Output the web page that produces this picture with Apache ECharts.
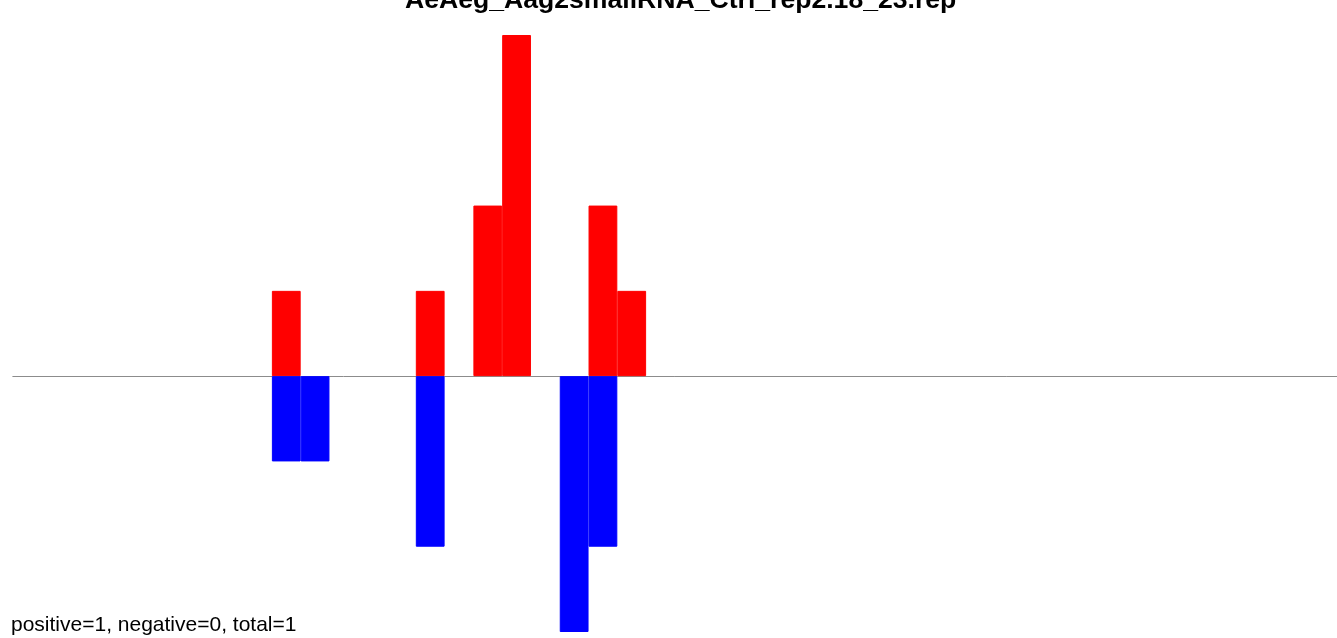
<!DOCTYPE html>
<html>
<head>
<meta charset="utf-8">
<script src="https://cdn.jsdelivr.net/npm/echarts@6/dist/echarts.min.js"></script>
<style>
html,body{margin:0;padding:0;background:#fff;}
#chart{width:1337px;height:638px;}
</style>
</head>
<body>
<div id="chart"></div>
<script>
const titleText = "AeAeg_Aag2smallRNA_Ctrl_rep2.18_23.rep";
const footText = "positive=1, negative=0, total=1";
const categories = Array.from({length: 46}, (_, i) => String(i + 1));
const positiveCounts = [0,0,0,0,0,0,0,0,0,1, 0,0,0,0,1,0,2,4,0,0, 2,1,0,0,0,0,0,0,0,0, 0,0,0,0,0,0,0,0,0,0, 0,0,0,0,0,0];
const negativeCounts = [0,0,0,0,0,0,0,0,0,-1, -1,0,0,0,-2,0,0,0,0,-3, -2,0,0,0,0,0,0,0,0,0, 0,0,0,0,0,0,0,0,0,0, 0,0,0,0,0,0];

const skipZero = arr => arr.map(v => (v === 0 ? '-' : v));

const chart = echarts.init(document.getElementById('chart'), null, {renderer: 'canvas'});
chart.setOption({
  animation: false,
  backgroundColor: '#ffffff',
  title: {
    text: titleText,
    left: 400,
    top: -18,
    textStyle: {fontFamily: 'Liberation Sans, Arial, sans-serif', fontWeight: 'bold', fontSize: 26.6, color: '#000'}
  },
  graphic: [{
    type: 'text',
    left: 11,
    top: 615,
    style: {text: footText, fontFamily: 'Liberation Sans, Arial, sans-serif', fontSize: 21, fill: '#000'}
  }],
  grid: {left: 12.8, top: 35, width: 1324.8, height: 597, containLabel: false},
  xAxis: {
    type: 'category',
    data: categories,
    boundaryGap: true,
    axisLine: {show: true, onZero: true, lineStyle: {color: '#8c8c8c', width: 1}},
    axisTick: {show: false},
    axisLabel: {show: false},
    splitLine: {show: false}
  },
  yAxis: {
    type: 'value',
    min: -3,
    max: 4,
    interval: 1,
    show: false,
    splitLine: {show: false}
  },
  series: [
    {type: 'bar', name: 'positive', data: skipZero(positiveCounts), barWidth: '100%', barGap: '-100%', itemStyle: {color: '#ff0000', borderColor: '#ff0000', borderWidth: 1}, z: 3},
    {type: 'bar', name: 'negative', data: skipZero(negativeCounts), barWidth: '100%', barGap: '-100%', itemStyle: {color: '#0000ff', borderColor: '#0000ff', borderWidth: 1}, z: 3}
  ]
});
</script>
</body>
</html>
